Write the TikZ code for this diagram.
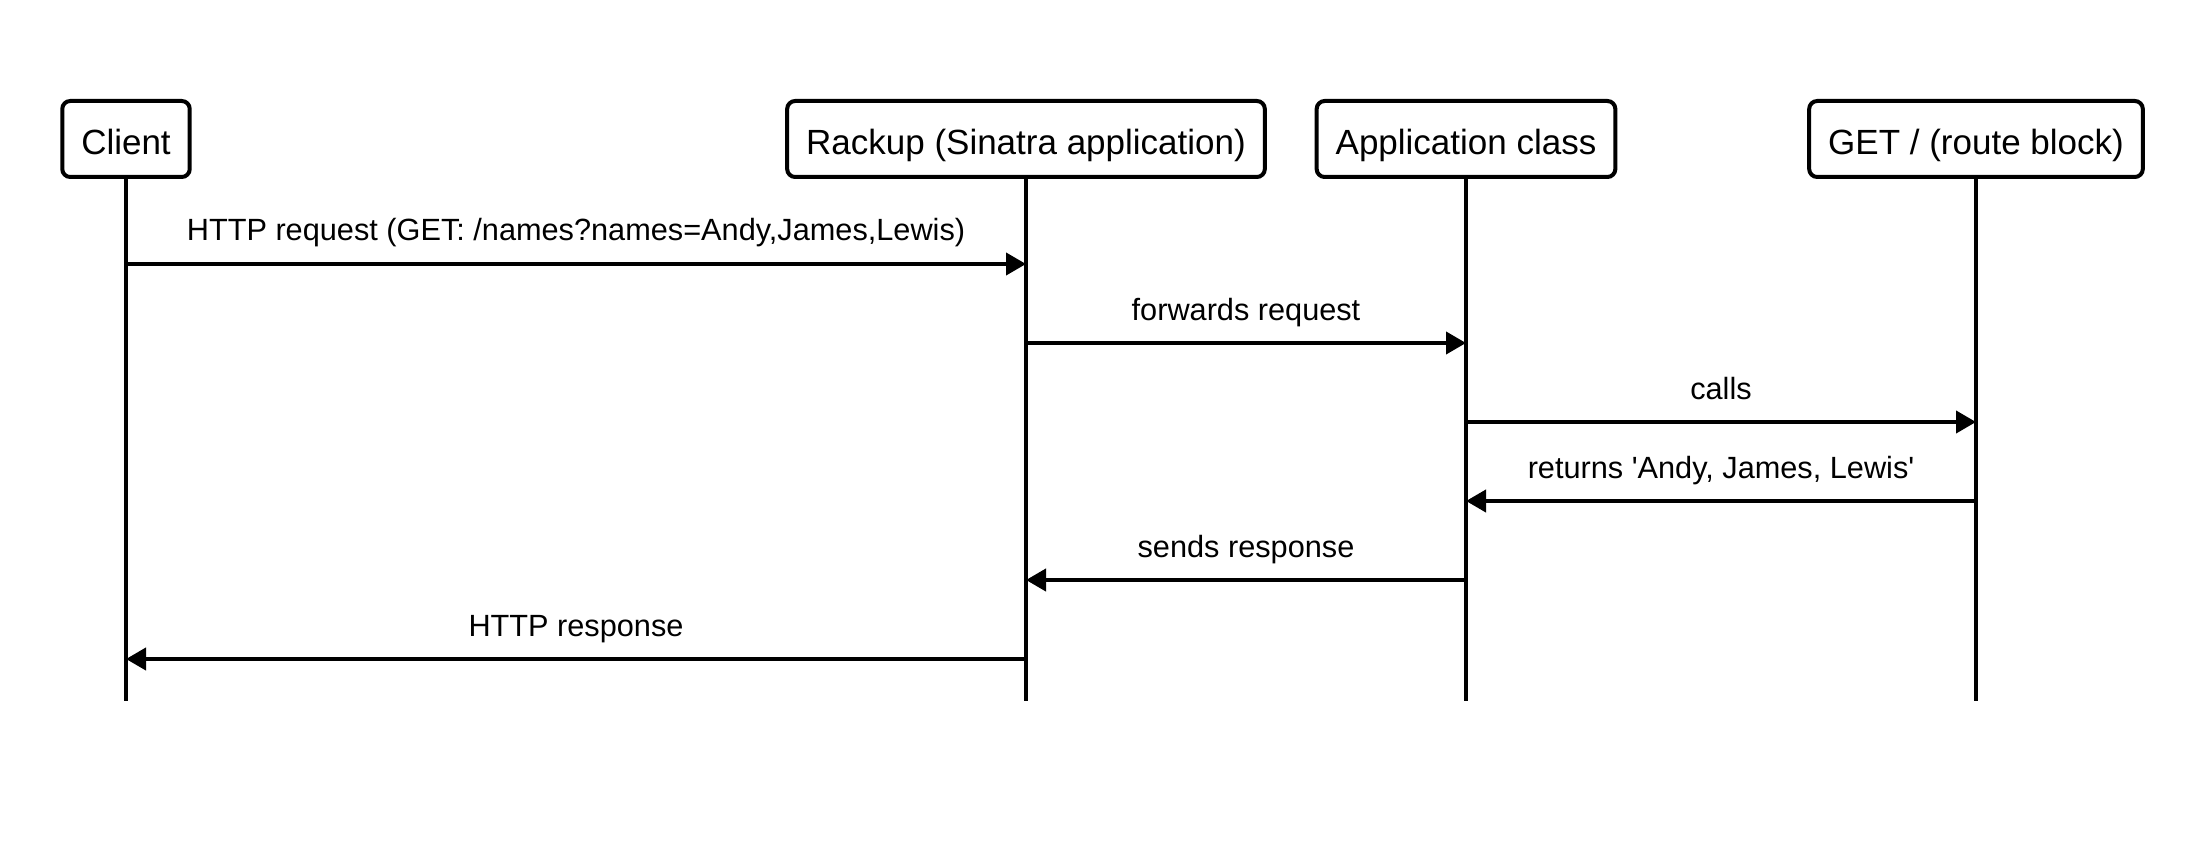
\documentclass[tikz,border=0pt]{standalone}
\usepackage{fontspec}
\setmainfont{Liberation Sans}
\usetikzlibrary{arrows.meta}
\newcommand{\sqt}{\XeTeXglyph\XeTeXcharglyph"27 }
\begin{document}
\begin{tikzpicture}[x=1pt,y=-1pt,
  actor/.style={draw, line width=4pt, rounded corners=8pt, fill=white,
    minimum height=76pt, inner xsep=19pt, text height=32pt, text depth=0pt,
    font=\fontsize{35}{42}\selectfont},
  life/.style={line width=4pt},
  msg/.style={line width=4pt, -{Triangle[length=20pt,width=22pt]}},
  lbl/.style={font=\fontsize{30.7}{36}\selectfont, anchor=base, inner sep=0pt, midway, yshift=23pt}]
\useasboundingbox (0,0) rectangle (2198,850);
% y levels
\coordinate (endy) at (0,701);
\coordinate (m1) at (0,264);
\coordinate (m2) at (0,343);
\coordinate (m3) at (0,422);
\coordinate (m4) at (0,501);
\coordinate (m5) at (0,580);
\coordinate (m6) at (0,659);
% positions of actors (centres)
\coordinate (pc) at (126,139);
\coordinate (pr) at (1026,139);
\coordinate (pa) at (1466,139);
\coordinate (pg) at (1976,139);
% lifelines
\draw[life] (pc) -- (pc |- endy);
\draw[life] (pr) -- (pr |- endy);
\draw[life] (pa) -- (pa |- endy);
\draw[life] (pg) -- (pg |- endy);
% actors
\node[actor] (client) at (pc) {Client};
\node[actor] (rack) at (pr) {Rackup (Sinatra application)};
\node[actor] (app) at (pa) {Application class};
\node[actor] (get) at (pg) {GET / (route block)};
% messages
\draw[msg] (client |- m1) -- (rack |- m1) node[lbl] {HTTP request (GET: /names?names=Andy,James,Lewis)};
\draw[msg] (rack |- m2) -- (app |- m2) node[lbl] {forwards request};
\draw[msg] (app |- m3) -- (get |- m3) node[lbl] {calls};
\draw[msg] (get |- m4) -- (app |- m4) node[lbl] {returns \sqt Andy, James, Lewis\sqt};
\draw[msg] (app |- m5) -- (rack |- m5) node[lbl] {sends response};
\draw[msg] (rack |- m6) -- (client |- m6) node[lbl] {HTTP response};
\end{tikzpicture}
\end{document}
